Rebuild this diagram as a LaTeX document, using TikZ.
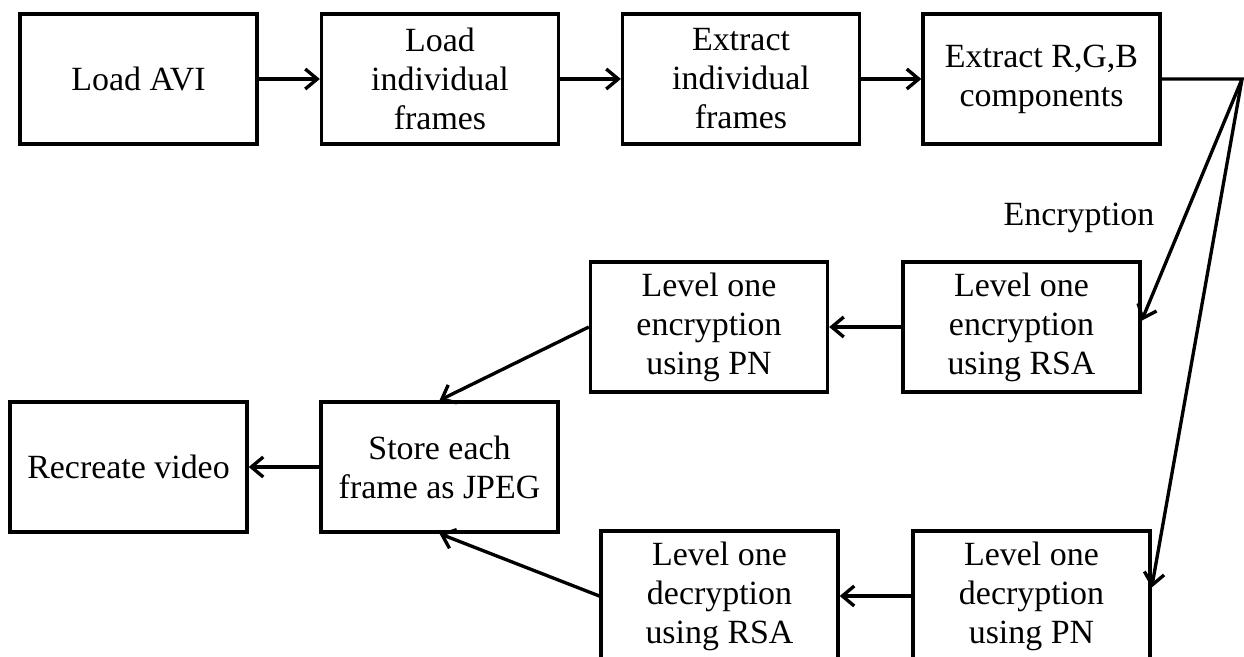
\documentclass[tikz,border=0pt]{standalone}
\usepackage{fontspec}
\setmainfont{Liberation Serif}
\usetikzlibrary{arrows.meta}
\tikzset{
  stage/.style={draw, line width=1.9pt, minimum width=4.74cm, minimum height=2.6cm,
    inner sep=0pt, align=center, font=\fontsize{19.3}{22.2}\selectfont},
  flow/.style={line width=1.9pt, -{Straight Barb[length=2.4mm,width=4mm]}}
}
\begin{document}
\begin{tikzpicture}
      \clip (0, 0) rectangle (24.88, 13.14);
      \node [stage] (loadavi) at (2.77, 11.56) {Load AVI};
      \node [stage] (loadfr) at (8.80, 11.56) {Load\\individual\\frames};
      \node [stage] (extfr) at (14.82, 11.56) {Extract\\individual\\frames};
      \node [stage] (extrgb) at (20.83, 11.56) {Extract R,G,B\\components};
      \node [stage] (encrsa) at (20.43, 6.60) {Level one\\encryption\\using RSA};
      \node [stage] (encpn) at (14.18, 6.60) {Level one\\encryption\\using PN};
      \node [stage] (store) at (8.79, 3.80) {Store each\\frame as JPEG};
      \node [stage] (recreate) at (2.57, 3.80) {Recreate video};
      \node [stage] (decpn) at (20.63, 1.22) {Level one\\decryption\\using PN};
      \node [stage] (decrsa) at (14.39, 1.22) {Level one\\decryption\\using RSA};
      \node [font=\fontsize{19.3}{22.2}\selectfont] (enclabel) at (21.58, 8.78) {Encryption};
      \coordinate (split) at (24.84, 11.56);
      \draw [flow] (loadavi) -- (loadfr);
      \draw [flow] (loadfr) -- (extfr);
      \draw [flow] (extfr) -- (extrgb);
      \draw [flow] (extrgb.east) -- (split) -- (encrsa.3);
      \draw [flow] (split) -- (decpn.4);
      \draw [flow] (encrsa) -- (encpn);
      \draw [flow] (encpn.west) -- (store.north);
      \draw [flow] (store) -- (recreate);
      \draw [flow] (decpn) -- (decrsa);
      \draw [flow] (decrsa.west) -- (store.south);
    \end{tikzpicture}
\end{document}
